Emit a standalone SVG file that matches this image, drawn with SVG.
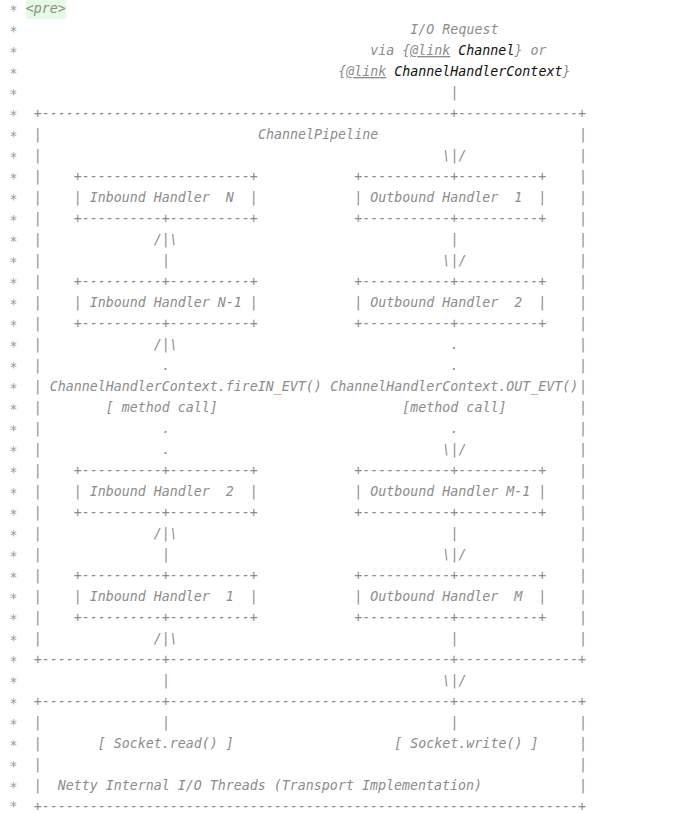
<svg xmlns="http://www.w3.org/2000/svg" width="693" height="813" viewBox="0 0 693 813">
<style>
text{font-family:"DejaVu Sans Mono","Liberation Mono",monospace;font-size:13.31px;font-style:italic;fill:#8c8c8c;white-space:pre}
.k{fill:#101010}
.u{text-decoration:underline}
.star{fill:#9a9a9a}
</style>
<rect width="693" height="813" fill="#ffffff"/>
<g id="gutter" transform="translate(0,1.5)">
<text class="star" xml:space="preserve"><tspan x="9.6" y="13">*</tspan><tspan x="9.6" y="34">*</tspan><tspan x="9.6" y="55">*</tspan><tspan x="9.6" y="76">*</tspan><tspan x="9.6" y="97">*</tspan><tspan x="9.6" y="118">*</tspan><tspan x="9.6" y="139">*</tspan><tspan x="9.6" y="160">*</tspan><tspan x="9.6" y="181">*</tspan><tspan x="9.6" y="202">*</tspan><tspan x="9.6" y="223">*</tspan><tspan x="9.6" y="244">*</tspan><tspan x="9.6" y="265">*</tspan><tspan x="9.6" y="286">*</tspan><tspan x="9.6" y="307">*</tspan><tspan x="9.6" y="328">*</tspan><tspan x="9.6" y="349">*</tspan><tspan x="9.6" y="370">*</tspan><tspan x="9.6" y="391">*</tspan><tspan x="9.6" y="412">*</tspan><tspan x="9.6" y="433">*</tspan><tspan x="9.6" y="454">*</tspan><tspan x="9.6" y="475">*</tspan><tspan x="9.6" y="496">*</tspan><tspan x="9.6" y="517">*</tspan><tspan x="9.6" y="538">*</tspan><tspan x="9.6" y="559">*</tspan><tspan x="9.6" y="580">*</tspan><tspan x="9.6" y="601">*</tspan><tspan x="9.6" y="622">*</tspan><tspan x="9.6" y="643">*</tspan><tspan x="9.6" y="664">*</tspan><tspan x="9.6" y="685">*</tspan><tspan x="9.6" y="706">*</tspan><tspan x="9.6" y="727">*</tspan><tspan x="9.6" y="748">*</tspan><tspan x="9.6" y="769">*</tspan><tspan x="9.6" y="790">*</tspan><tspan x="9.6" y="809.5">*</tspan></text>
</g>
<g id="pre-tag">
<rect x="26" y="0" width="40" height="19" fill="#e4fbe4"/>
<text x="25.63" y="13">&lt;pre&gt;</text>
</g>
<g id="io-request">
<text x="410.35" y="34" xml:space="preserve">I/O Request</text>
<text x="370.28" y="55" xml:space="preserve">via {<tspan class="u">@link</tspan> <tspan class="k">Channel</tspan>} or</text>
<text x="338.22" y="76" xml:space="preserve">{<tspan class="u">@link</tspan> <tspan class="k">ChannelHandlerContext</tspan>}</text>
</g>
<g id="pipeline">
<text x="33.65" y="118" xml:space="preserve">+---------------------------------------------------+---------------+</text>
<text x="258.07" y="139" xml:space="preserve">ChannelPipeline</text>
<text xml:space="preserve"><tspan x="33.65" y="139">|</tspan><tspan x="33.65" y="160">|</tspan><tspan x="33.65" y="181">|</tspan><tspan x="33.65" y="202">|</tspan><tspan x="33.65" y="223">|</tspan><tspan x="33.65" y="244">|</tspan><tspan x="33.65" y="265">|</tspan><tspan x="33.65" y="286">|</tspan><tspan x="33.65" y="307">|</tspan><tspan x="33.65" y="328">|</tspan><tspan x="33.65" y="349">|</tspan><tspan x="33.65" y="370">|</tspan><tspan x="33.65" y="391">|</tspan><tspan x="33.65" y="412">|</tspan><tspan x="33.65" y="433">|</tspan><tspan x="33.65" y="454">|</tspan><tspan x="33.65" y="475">|</tspan><tspan x="33.65" y="496">|</tspan><tspan x="33.65" y="517">|</tspan><tspan x="33.65" y="538">|</tspan><tspan x="33.65" y="559">|</tspan><tspan x="33.65" y="580">|</tspan><tspan x="33.65" y="601">|</tspan><tspan x="33.65" y="622">|</tspan><tspan x="33.65" y="643">|</tspan></text>
<text xml:space="preserve"><tspan x="579" y="139">|</tspan><tspan x="579" y="160">|</tspan><tspan x="579" y="181">|</tspan><tspan x="579" y="202">|</tspan><tspan x="579" y="223">|</tspan><tspan x="579" y="244">|</tspan><tspan x="579" y="265">|</tspan><tspan x="579" y="286">|</tspan><tspan x="579" y="307">|</tspan><tspan x="579" y="328">|</tspan><tspan x="579" y="349">|</tspan><tspan x="579" y="370">|</tspan><tspan x="579" y="391">|</tspan><tspan x="579" y="412">|</tspan><tspan x="579" y="433">|</tspan><tspan x="579" y="454">|</tspan><tspan x="579" y="475">|</tspan><tspan x="579" y="496">|</tspan><tspan x="579" y="517">|</tspan><tspan x="579" y="538">|</tspan><tspan x="579" y="559">|</tspan><tspan x="579" y="580">|</tspan><tspan x="579" y="601">|</tspan><tspan x="579" y="622">|</tspan><tspan x="579" y="643">|</tspan></text>
<text x="33.65" y="664" xml:space="preserve">+---------------+-----------------------------------+---------------+</text>
</g>
<g id="inbound-handler-n">
<text x="73.72" y="181" xml:space="preserve">+---------------------+</text>
<text x="73.72" y="202" xml:space="preserve">| Inbound Handler  N  |</text>
<text x="73.72" y="223" xml:space="preserve">+----------+----------+</text>
</g>
<g id="inbound-handler-n-1">
<text x="73.72" y="286" xml:space="preserve">+----------+----------+</text>
<text x="73.72" y="307" xml:space="preserve">| Inbound Handler N-1 |</text>
<text x="73.72" y="328" xml:space="preserve">+----------+----------+</text>
</g>
<g id="inbound-handler-2">
<text x="73.72" y="475" xml:space="preserve">+----------+----------+</text>
<text x="73.72" y="496" xml:space="preserve">| Inbound Handler  2  |</text>
<text x="73.72" y="517" xml:space="preserve">+----------+----------+</text>
</g>
<g id="inbound-handler-1">
<text x="73.72" y="580" xml:space="preserve">+----------+----------+</text>
<text x="73.72" y="601" xml:space="preserve">| Inbound Handler  1  |</text>
<text x="73.72" y="622" xml:space="preserve">+----------+----------+</text>
</g>
<g id="outbound-handler-1">
<text x="354.25" y="181" xml:space="preserve">+-----------+----------+</text>
<text x="354.25" y="202" xml:space="preserve">| Outbound Handler  1  |</text>
<text x="354.25" y="223" xml:space="preserve">+-----------+----------+</text>
</g>
<g id="outbound-handler-2">
<text x="354.25" y="286" xml:space="preserve">+-----------+----------+</text>
<text x="354.25" y="307" xml:space="preserve">| Outbound Handler  2  |</text>
<text x="354.25" y="328" xml:space="preserve">+-----------+----------+</text>
</g>
<g id="outbound-handler-m-1">
<text x="354.25" y="475" xml:space="preserve">+-----------+----------+</text>
<text x="354.25" y="496" xml:space="preserve">| Outbound Handler M-1 |</text>
<text x="354.25" y="517" xml:space="preserve">+-----------+----------+</text>
</g>
<g id="outbound-handler-m">
<text x="354.25" y="580" xml:space="preserve">+-----------+----------+</text>
<text x="354.25" y="601" xml:space="preserve">| Outbound Handler  M  |</text>
<text x="354.25" y="622" xml:space="preserve">+-----------+----------+</text>
</g>
<g id="connectors">
<text x="450.43" y="97">|</text>
<text x="442.41" y="160">\|/</text>
<text x="153.87" y="244">/|\</text>
<text x="450.43" y="244">|</text>
<text x="161.89" y="265">|</text>
<text x="442.41" y="265">\|/</text>
<text x="153.87" y="349">/|\</text>
<text x="450.43" y="349">.</text>
<text x="161.89" y="370">.</text>
<text x="450.43" y="370">.</text>
<text x="161.89" y="433">.</text>
<text x="450.43" y="433">.</text>
<text x="161.89" y="454">.</text>
<text x="442.41" y="454">\|/</text>
<text x="153.87" y="538">/|\</text>
<text x="450.43" y="538">|</text>
<text x="161.89" y="559">|</text>
<text x="442.41" y="559">\|/</text>
<text x="153.87" y="643">/|\</text>
<text x="450.43" y="643">|</text>
<text x="161.89" y="685">|</text>
<text x="442.41" y="685">\|/</text>
<text x="161.89" y="727">|</text>
<text x="450.43" y="727">|</text>
</g>
<g id="method-calls">
<text x="49.68" y="391">ChannelHandlerContext.fireIN_EVT()</text>
<text x="330.20" y="391">ChannelHandlerContext.OUT_EVT()</text>
<text x="105.78" y="412" xml:space="preserve">[ method call]</text>
<text x="402.34" y="412" xml:space="preserve">[method call]</text>
</g>
<g id="transport">
<text x="33.65" y="706" xml:space="preserve">+---------------+-----------------------------------+---------------+</text>
<text xml:space="preserve"><tspan x="33.65" y="727">|</tspan><tspan x="33.65" y="748">|</tspan><tspan x="33.65" y="769">|</tspan><tspan x="33.65" y="790">|</tspan></text>
<text xml:space="preserve"><tspan x="579" y="727">|</tspan><tspan x="579" y="748">|</tspan><tspan x="579" y="769">|</tspan><tspan x="579" y="790">|</tspan></text>
<text x="97.77" y="748" xml:space="preserve">[ Socket.read() ]</text>
<text x="394.32" y="748" xml:space="preserve">[ Socket.write() ]</text>
<text x="57.69" y="790" xml:space="preserve">Netty Internal I/O Threads (Transport Implementation)</text>
<text x="33.65" y="811" xml:space="preserve">+-------------------------------------------------------------------+</text>
</g>
</svg>
